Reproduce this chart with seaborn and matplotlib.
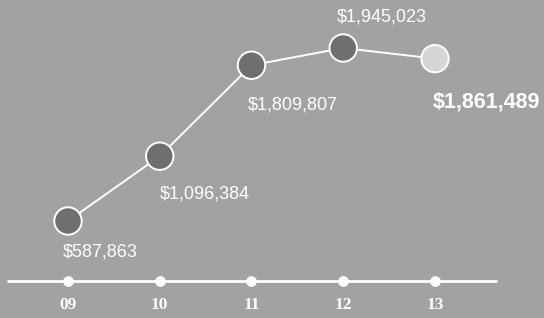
import pandas as pd
import seaborn as sns
import matplotlib.pyplot as plt

# revenue by year
years = ["09", "10", "11", "12", "13"]
revenue = [587863, 1096384, 1809807, 1945023, 1861489]
labels = ["$587,863", "$1,096,384", "$1,809,807", "$1,945,023", "$1,861,489"]

df = pd.DataFrame({"pos": range(len(years)), "year": years, "revenue": revenue})

bg = "#a2a2a2"
sns.set_theme(style="white")
plt.rcParams["font.family"] = ["Liberation Sans", "DejaVu Sans"]

fig = plt.figure(figsize=(5.44, 3.18), dpi=100, facecolor=bg)
ax = fig.add_axes([0, 0, 1, 1])
ax.set_facecolor(bg)

sns.lineplot(data=df, x="pos", y="revenue", color="white", linewidth=1.4, ax=ax, zorder=2)
cols = ["#6f6f6f"] * 4 + ["#d6d6d6"]
sns.scatterplot(data=df, x="pos", y="revenue", hue="year", palette=cols, s=390,
                edgecolor="white", linewidth=1.4, legend=False, ax=ax, zorder=3)

# value labels (offsets in pixels)
offs = [(-5, -31), (0, -38), (-4, -40), (-6, 31), (-2, -43)]
for i, (lab, off) in enumerate(zip(labels, offs)):
    big = i == len(labels) - 1
    ax.annotate(lab, (i, revenue[i]), xytext=off, textcoords="offset pixels",
                ha="left", va="center", color="white",
                fontsize=15.5 if big else 13, fontweight="bold" if big else "normal")

# bottom axis line with dots
tr = ax.get_xaxis_transform()
ax.plot([-0.65, 4.67], [0.116, 0.116], color="white", linewidth=2, transform=tr, clip_on=False)
ax.scatter(df["pos"], [0.116] * len(df), s=45, color="white", transform=tr, zorder=4)
for i, y in enumerate(years):
    ax.text(i, 0.04, y, transform=tr, ha="center", va="center", color="white",
            fontsize=12.5, fontweight="bold", family=["Liberation Serif", "DejaVu Serif"])

ax.set_xlim(-0.741, 5.188)
ax.set_ylim(-173074, 2321577)
ax.axis("off")

fig.savefig("out.png", dpi=100, facecolor=bg)
